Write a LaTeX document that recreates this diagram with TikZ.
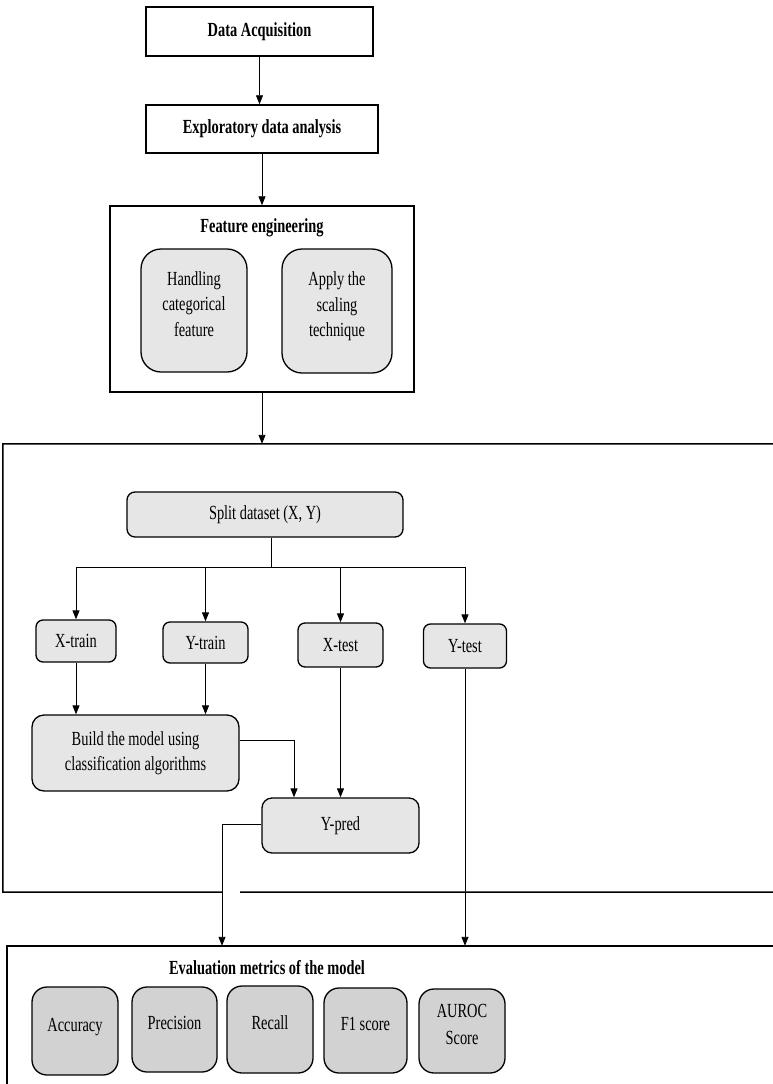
\documentclass[tikz,border=0pt]{standalone}
\usepackage{fontspec}
\setmainfont[FakeStretch=0.72]{Liberation Serif}
\usetikzlibrary{arrows.meta,calc}
\definecolor{lightbox}{HTML}{E6E6E6}
\definecolor{metricbox}{HTML}{D2D2D2}
\newcommand{\updn}{\rule[-13pt]{0pt}{0pt}}
\begin{document}
\begin{tikzpicture}[x=1pt,y=-1pt,
  sqbox/.style={draw, line width=1.5pt, inner sep=0pt, align=center,
    font={\bfseries\fontsize{20}{25}\selectfont}},
  rbox/.style={draw, line width=1.3pt, fill=lightbox, rounded corners=#1,
    inner sep=0pt, align=center, font={\fontsize{20}{25.5}\selectfont}},
  mbox/.style={draw, line width=1.3pt, fill=metricbox, rounded corners=15pt,
    inner sep=0pt, align=center, font={\fontsize{20}{27}\selectfont}},
  ttl/.style={inner sep=0pt, font={\bfseries\fontsize{20}{25}\selectfont}},
  ghost/.style={inner sep=0pt},
  frame/.style={line width=1.5pt},
  arr/.style={-{Triangle[length=9pt,width=7pt]}, line width=0.9pt},
  plainline/.style={line width=0.9pt}]
\useasboundingbox (0,0) rectangle (773,1084);

% top chain
\node[sqbox, minimum width=227pt, minimum height=49pt] (acq) at (259.5,31.5) {Data Acquisition};
\node[sqbox, minimum width=232pt, minimum height=48pt] (eda) at (262,129) {Exploratory data analysis};
\node[sqbox, minimum width=304pt, minimum height=186pt] (fe) at (262,299) {};
\node[ttl] (fetitle) at (262,228) {Feature engineering};
\node[rbox=20pt, minimum width=106pt, minimum height=123pt] (hcf) at (194,310.5) {Handling\\categorical\\feature\updn};
\node[rbox=20pt, minimum width=110pt, minimum height=124pt] (ast) at (337,311) {Apply the\\scaling\\technique\updn};

% big frame
\node[ghost, minimum width=770pt, minimum height=448pt] (big) at (388,668) {};
\coordinate (gapL) at (222,892);
\coordinate (gapR) at (240,892);
\draw[frame] (big.north east) -- (big.north west) -- (big.south west) -- (gapL);
\draw[frame] (gapR) -- (big.south east);

\node[rbox=8pt, minimum width=276pt, minimum height=45pt] (split) at (265,514.5) {Split dataset (X, Y)};
\node[rbox=7pt, minimum width=80pt, minimum height=42pt] (xtrain) at (76,641) {X-train};
\node[rbox=7pt, minimum width=85pt, minimum height=41pt] (ytrain) at (205.5,642.5) {Y-train};
\node[rbox=7pt, minimum width=85pt, minimum height=44pt] (xtest) at (340.5,645) {X-test};
\node[rbox=7pt, minimum width=83pt, minimum height=44pt] (ytest) at (465,646) {Y-test};
\node[rbox=12pt, minimum width=207pt, minimum height=76pt] (build) at (135.5,753) {Build the model using\\classification algorithms};
\node[rbox=10pt, minimum width=157pt, minimum height=55pt] (ypred) at (340.5,825.5) {Y-pred};

% evaluation frame
\node[ghost, minimum width=766pt, minimum height=138pt] (eval) at (390,1015) {};
\draw[frame] (eval.north east) -- (eval.north west) -- (eval.south west);
\node[ttl] (evtitle) at (267,968) {Evaluation metrics of the model};
\node[mbox, minimum width=86pt, minimum height=88pt] (acc) at (75,1031) {Accuracy\updn};
\node[mbox, minimum width=85pt, minimum height=85pt] (prec) at (174.5,1029.5) {Precision\updn};
\node[mbox, minimum width=86pt, minimum height=87pt] (rec) at (270,1029.5) {Recall\updn};
\node[mbox, minimum width=83pt, minimum height=85pt] (f1) at (365.5,1030.5) {F1 score\updn};
\node[mbox, minimum width=86pt, minimum height=84pt] (auroc) at (462,1031) {AUROC\\Score\updn};

% connectors
\draw[arr] (acq.south) -- (acq.south |- eda.north);
\draw[arr] (eda.south) -- (eda.south |- fe.north);
\draw[arr] (fe.south) -- (fe.south |- big.north);

\coordinate (jn) at (271,567);
\draw[plainline] ([xshift=6pt]split.south) -- (jn);
\draw[plainline] (xtrain.north |- jn) -- (ytest.north |- jn);
\draw[arr] (xtrain.north |- jn) -- (xtrain.north);
\draw[arr] (ytrain.north |- jn) -- (ytrain.north);
\draw[arr] (xtest.north |- jn) -- (xtest.north);
\draw[arr] (ytest.north |- jn) -- (ytest.north);

\draw[arr] (xtrain.south) -- (xtrain.south |- build.north);
\draw[arr] (ytrain.south) -- (ytrain.south |- build.north);
\coordinate (bend1) at (294,740);
\draw[arr] (build.east |- bend1) -- (bend1) -- (bend1 |- ypred.north);
\draw[arr] (xtest.south) -- (ypred.north);
\coordinate (bend2) at (222,824);
\draw[arr] (ypred.west |- bend2) -- (bend2) -- (bend2 |- eval.north);
\draw[arr] (ytest.south) -- (ytest.south |- eval.north);
\end{tikzpicture}
\end{document}
